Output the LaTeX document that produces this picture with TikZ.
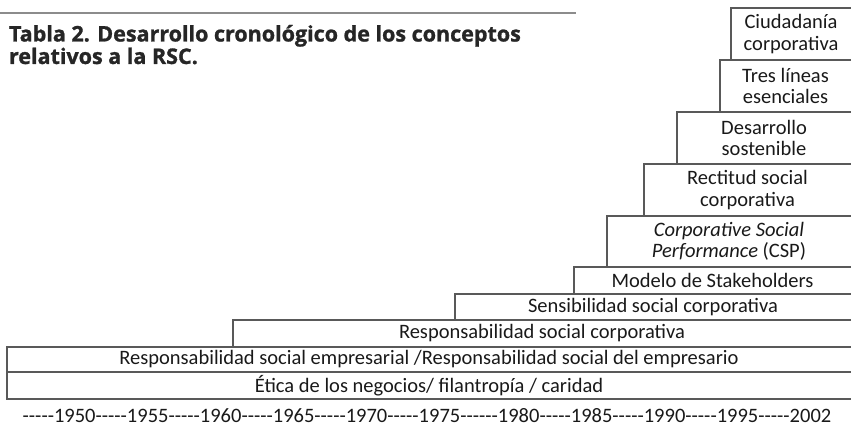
\documentclass[tikz,border=0pt]{standalone}
\usepackage{fontspec}
\setmainfont{Carlito}
\newfontfamily\titlefont{Open Sans}[BoldFeatures={FakeBold=1.2}]
\newfontfamily\anosfont{Carlito}[Ligatures=TeXOff]
\usetikzlibrary{positioning}

\begin{document}
\begin{tikzpicture}[x=1pt, y=1pt, inner sep=0pt, outer sep=0pt,
    caja/.style={minimum width=#1, align=center, anchor=south east,
                 font=\fontsize{20.5}{21.5}\selectfont, text=black!90},
    borde/.style={draw=black!65, line width=1.2pt}]
\useasboundingbox (0,0) rectangle (851,-424);
\draw[black!45, line width=1.5pt] (0,-13) -- (576,-13);
\node[anchor=north west, align=left, font=\titlefont\bfseries\fontsize{21.5}{22.5}\selectfont, text=black!85] (titulo) at (9,-25)
    {Tabla 2. Desarrollo cronológico de los conceptos\\relativos a la RSC.};

% escalera de conceptos, de abajo arriba
\node[caja=844pt, minimum height=27pt] (etica) at (851,-399) {Ética de los negocios/ filantropía / caridad};
\node[caja=844pt, minimum height=25pt] (rse) at (etica.north east) {Responsabilidad social empresarial /Responsabilidad social del empresario};
\node[caja=618pt, minimum height=27pt] (rsc) at (rse.north east) {Responsabilidad social corporativa};
\node[caja=396pt, minimum height=26pt] (sens) at (rsc.north east) {Sensibilidad social corporativa};
\node[caja=277pt, minimum height=27pt] (stake) at (sens.north east) {Modelo de Stakeholders};
\node[caja=244pt, minimum height=51pt] (csp) at (stake.north east) {\textit{Corporative Social}\\\textit{Performance} (CSP)};
\node[caja=207pt, minimum height=52pt] (rect) at (csp.north east) {Rectitud social\\corporativa};
\node[caja=174pt, minimum height=52pt] (desa) at (rect.north east) {Desarrollo\\sostenible};
\node[caja=131pt, minimum height=52pt] (tres) at (desa.north east) {Tres líneas\\esenciales};
\node[caja=120pt, minimum height=52pt] (ciud) at (tres.north east) {Ciudadanía\\corporativa};

\foreach \b in {etica,rse,rsc,sens,stake,csp,rect,desa,tres,ciud}
    \draw[borde] (\b.north east) -- (\b.north west) -- (\b.south west) -- (\b.south east);

\node[below=9pt of etica.south, xshift=-2pt, font=\anosfont\fontsize{20.5}{21.5}\selectfont, text=black!90] (anos)
    {-----1950-----1955-----1960-----1965-----1970-----1975------1980-----1985-----1990-----1995-----2002};
\end{tikzpicture}
\end{document}
